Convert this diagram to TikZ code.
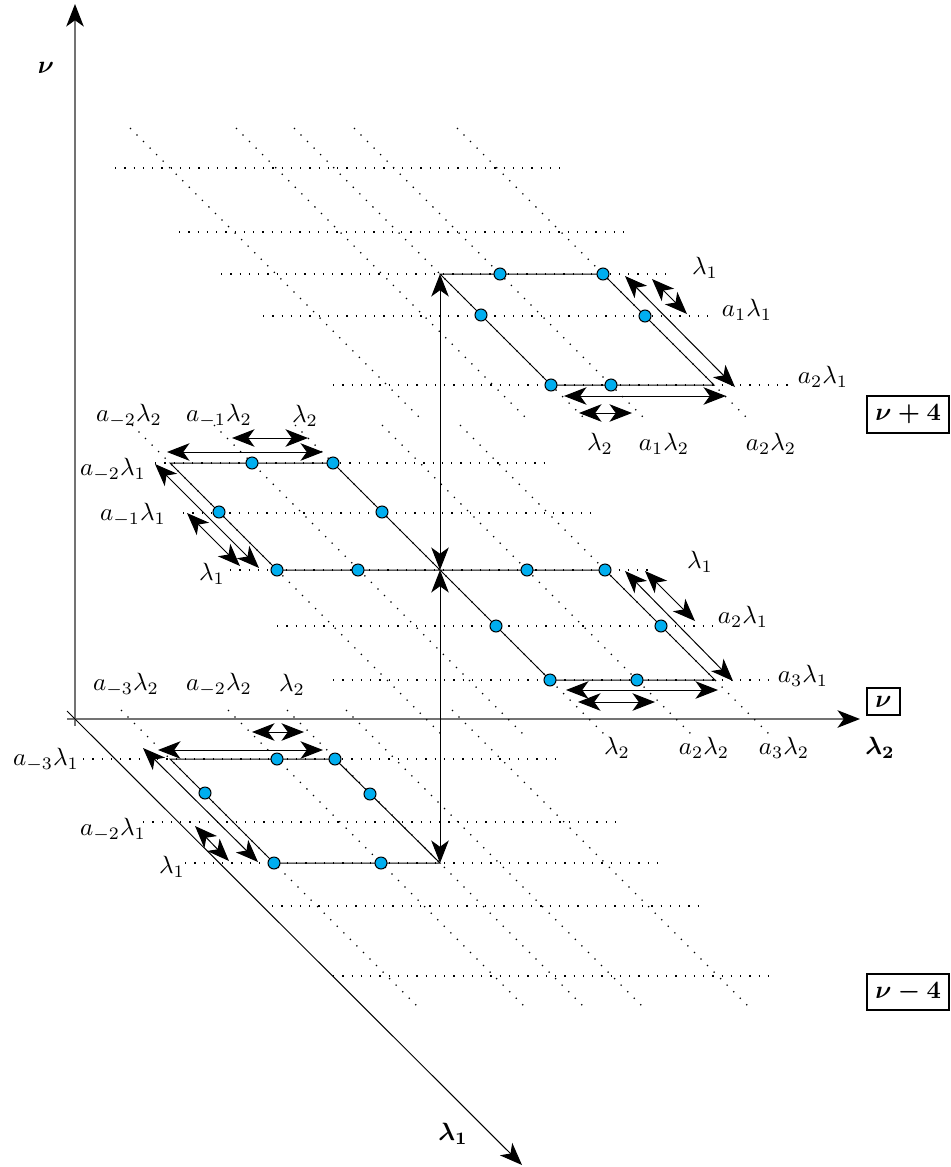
\documentclass[tikz,border=0pt]{standalone}
\usepackage{amsmath, amssymb}
\usetikzlibrary{arrows.meta}
\definecolor{dotblue}{RGB}{0,174,239}
\tikzset{
        % Lattice points
        node_dot/.style={circle, draw=black, fill=dotblue, line width=0.4pt, minimum size=4.8pt, inner sep=0pt},
        % Dotted lattice lines
        line_grid/.style={black, line width=0.5pt, dash pattern=on 0.5pt off 3.2pt},
        % Cell edges
        line_edge/.style={black, line width=0.4pt},
        % Step arrows
        arrow_step/.style={black, line width=0.4pt, {Stealth[length=9pt, width=7pt, inset=2.5pt]}-{Stealth[length=9pt, width=7pt, inset=2.5pt]}},
        % Axes
        line_axis/.style={black!55, line width=0.7pt, -{Stealth[length=9pt, width=7pt, inset=2.5pt, color=black]}},
        % Labels
        node_label/.style={inner sep=0pt},
        % Plane tags
        node_plane/.style={draw, line width=0.8pt, inner sep=3.33pt, anchor=west}
}

\begin{document}
\begin{tikzpicture}[x=0.4pt, y=-0.4pt]
            \useasboundingbox (0,0) rectangle (951,1167);

            % axes
            \coordinate (nu_from) at (75,726);
            \coordinate (nu_to) at (75,4);
            \coordinate (ltwo_from) at (67,719);
            \coordinate (ltwo_to) at (860,719);
            \coordinate (lone_from) at (67,711);
            \coordinate (lone_to) at (522,1165);
            \draw[line_axis] (nu_from) -- (nu_to);
            \draw[line_axis] (ltwo_from) -- (ltwo_to);
            \draw[line_axis, black, line width=0.4pt] (lone_from) -- (lone_to);
            \node[node_label] (ax_nu) at (46,68) {$\boldsymbol{\nu}$};
            \node[node_label] (ax_ltwo) at (880,748) {$\boldsymbol{\lambda_2}$};
            \node[node_label] (ax_lone) at (453,1134) {$\boldsymbol{\lambda_1}$};

            % dotted lattice, plane nu+4
            \foreach \y/\xa/\xb in {168/115/566, 232/179/631, 274/221/672, 316/263/715, 385/333/792}
                \draw[line_grid] (\xa,\y) -- (\xb,\y);
            \foreach \x in {276,382,440,500,603}
                \draw[line_grid] (\x-146,128) -- (\x+147,421);
            % dotted lattice, plane nu
            \foreach \y/\xa/\xb in {463/155/545, 513/183/598, 570/230/655, 626/277/717, 680/333/768}
                \draw[line_grid] (\xa,\y) -- (\xb,\y);
            \foreach \x in {277,359,440,527,605}
                \draw[line_grid] (\x-145,425) -- (\x+165,735);
            % dotted lattice, plane nu-4
            \foreach \y/\xa/\xb in {759/83/555, 822/143/622, 863/185/663, 906/272/704, 976/333/775}
                \draw[line_grid] (\xa,\y) -- (\xb,\y);
            \foreach \x in {274,381,440,499,605}
                \draw[line_grid] (\x-153,710) -- (\x+147,1010);

            % cells
            \coordinate (t_c) at (440,274);
            \coordinate (t_tr) at (603,274);
            \coordinate (t_br) at (714,385);
            \coordinate (t_bl) at (551,385);
            \coordinate (m_c) at (440,570);
            \coordinate (m_tr) at (605,570);
            \coordinate (m_br) at (715,680);
            \coordinate (m_bl) at (550,680);
            \coordinate (l_tl) at (170,463);
            \coordinate (l_tr) at (333,463);
            \coordinate (l_bl) at (277,570);
            \coordinate (b_tl) at (170,759);
            \coordinate (b_tr) at (335,759);
            \coordinate (b_br) at (440,863);
            \coordinate (b_bl) at (274,863);
            \draw[line_edge] (t_c) -- (t_tr) -- (t_br) -- (t_bl) -- cycle;
            \draw[line_edge] (m_c) -- (m_tr) -- (m_br) -- (m_bl) -- cycle;
            \draw[line_edge] (l_tl) -- (l_tr) -- (m_c) -- (l_bl) -- cycle;
            \draw[line_edge] (b_tl) -- (b_tr) -- (b_br) -- (b_bl) -- cycle;

            % steps
            \draw[arrow_step] (m_c) -- (t_c);
            \draw[arrow_step] (m_c) -- (b_br);
            \draw[arrow_step] ([shift={(22,2)}]t_tr) -- ([shift={(21,2)}]t_br);
            \draw[arrow_step] ([shift={(49,5)}]t_tr) -- ([shift={(84,40)}]t_tr);
            \draw[arrow_step] ([shift={(13,11)}]t_bl) -- ([shift={(12,11)}]t_br);
            \draw[arrow_step] ([shift={(28,28)}]t_bl) -- ([shift={(81,28)}]t_bl);
            \draw[arrow_step] ([shift={(20,1)}]m_tr) -- ([shift={(18,1)}]m_br);
            \draw[arrow_step] ([shift={(40,1)}]m_tr) -- ([shift={(90,51)}]m_tr);
            \draw[arrow_step] ([shift={(16,10)}]m_bl) -- ([shift={(3,10)}]m_br);
            \draw[arrow_step] ([shift={(28,22)}]m_bl) -- ([shift={(105,22)}]m_bl);
            \draw[arrow_step] ([shift={(-3,-11)}]l_tl) -- ([shift={(-10,-11)}]l_tr);
            \draw[arrow_step] ([shift={(-101,-25)}]l_tr) -- ([shift={(-25,-25)}]l_tr);
            \draw[arrow_step] ([shift={(-15,1)}]l_tl) -- ([shift={(-18,-2)}]l_bl);
            \draw[arrow_step] ([shift={(-90,-57)}]l_bl) -- ([shift={(-37,-4)}]l_bl);
            \draw[arrow_step] ([shift={(-12,-9)}]b_tl) -- ([shift={(-12,-9)}]b_tr);
            \draw[arrow_step] ([shift={(-83,-27)}]b_tr) -- ([shift={(-31,-27)}]b_tr);
            \draw[arrow_step] ([shift={(-27,-11)}]b_tl) -- ([shift={(-16,-1)}]b_bl);
            \draw[arrow_step] ([shift={(-79,-37)}]b_bl) -- ([shift={(-45,-2)}]b_bl);

            % lattice points
            \node[node_dot] (t_d1) at (500,274) {};
            \node[node_dot] (t_d2) at (t_tr) {};
            \node[node_dot] (t_d3) at (481,315) {};
            \node[node_dot] (t_d4) at (645,316) {};
            \node[node_dot] (t_d5) at (t_bl) {};
            \node[node_dot] (t_d6) at (611,385) {};
            \node[node_dot] (m_d1) at (527,570) {};
            \node[node_dot] (m_d2) at (m_tr) {};
            \node[node_dot] (m_d3) at (496,626) {};
            \node[node_dot] (m_d4) at (661,626) {};
            \node[node_dot] (m_d5) at (m_bl) {};
            \node[node_dot] (m_d6) at (637,680) {};
            \node[node_dot] (l_d1) at (252,463) {};
            \node[node_dot] (l_d2) at (l_tr) {};
            \node[node_dot] (l_d3) at (219,512) {};
            \node[node_dot] (l_d4) at (382,512) {};
            \node[node_dot] (l_d5) at (l_bl) {};
            \node[node_dot] (l_d6) at (358,570) {};
            \node[node_dot] (b_d1) at (277,759) {};
            \node[node_dot] (b_d2) at (b_tr) {};
            \node[node_dot] (b_d3) at (205,793) {};
            \node[node_dot] (b_d4) at (370,794) {};
            \node[node_dot] (b_d5) at (b_bl) {};
            \node[node_dot] (b_d6) at (381,863) {};

            % labels, plane nu+4
            \node[node_label] (t_ll1) at (705,268) {$\lambda_1$};
            \node[node_label] (t_ll2) at (747,310) {$a_1\lambda_1$};
            \node[node_label] (t_ll3) at (823,377) {$a_2\lambda_1$};
            \node[node_label] (t_lc1) at (600,444) {$\lambda_2$};
            \node[node_label] (t_lc2) at (664,444) {$a_1\lambda_2$};
            \node[node_label] (t_lc3) at (771,444) {$a_2\lambda_2$};
            % labels, plane nu
            \node[node_label] (l_lc1) at (129,416) {$a_{-2}\lambda_2$};
            \node[node_label] (l_lc2) at (219,416) {$a_{-1}\lambda_2$};
            \node[node_label] (l_lc3) at (305,416) {$\lambda_2$};
            \node[node_label] (l_ll1) at (113,470) {$a_{-2}\lambda_1$};
            \node[node_label] (l_ll2) at (133,515) {$a_{-1}\lambda_1$};
            \node[node_label] (l_ll3) at (212,574) {$\lambda_1$};
            \node[node_label] (m_ll1) at (700,562) {$\lambda_1$};
            \node[node_label] (m_ll2) at (743,617) {$a_2\lambda_1$};
            \node[node_label] (m_ll3) at (803,676) {$a_3\lambda_1$};
            \node[node_label] (m_lc1) at (617,748) {$\lambda_2$};
            \node[node_label] (m_lc2) at (704,748) {$a_2\lambda_2$};
            \node[node_label] (m_lc3) at (784,748) {$a_3\lambda_2$};
            % labels, plane nu-4
            \node[node_label] (b_lc1) at (126,685) {$a_{-3}\lambda_2$};
            \node[node_label] (b_lc2) at (219,685) {$a_{-2}\lambda_2$};
            \node[node_label] (b_lc3) at (292,685) {$\lambda_2$};
            \node[node_label] (b_ll1) at (46,760) {$a_{-3}\lambda_1$};
            \node[node_label] (b_ll2) at (113,830) {$a_{-2}\lambda_1$};
            \node[node_label] (b_ll3) at (172,867) {$\lambda_1$};

            % plane tags
            \node[node_plane] (tag_up) at (866,414.5) {$\boldsymbol{\nu+4}$};
            \node[node_plane] (tag_mid) at (866,701.5) {$\boldsymbol{\nu}$};
            \node[node_plane] (tag_dn) at (866,992) {$\boldsymbol{\nu-4}$};
\end{tikzpicture}
\end{document}
